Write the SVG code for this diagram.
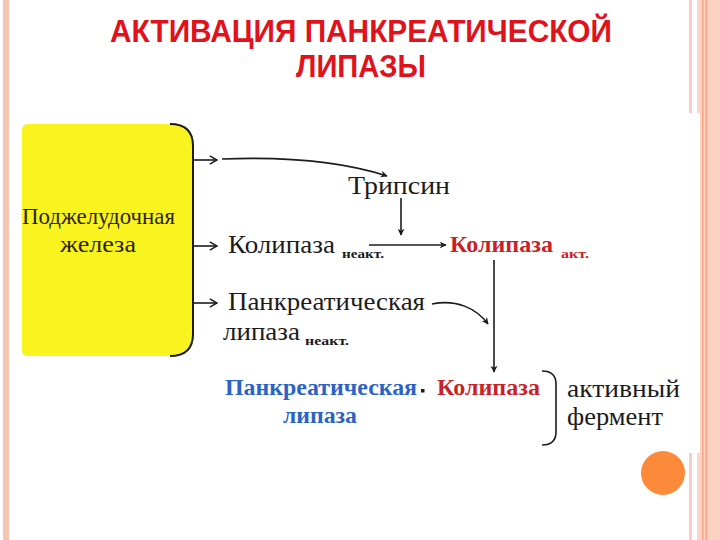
<svg xmlns="http://www.w3.org/2000/svg" width="720" height="540" viewBox="0 0 720 540">
<defs>
<style>
.title{font-family:"Liberation Sans",Arial,sans-serif;font-weight:bold;font-size:31px;fill:#e0121c;text-anchor:middle}
.ser{font-family:"Liberation Serif","Times New Roman",serif;font-size:26px;fill:#1c1c1c}
.sub{font-family:"Liberation Serif","Times New Roman",serif;font-size:13px;font-weight:bold;fill:#1c1c1c}
.red{fill:#c91f29;font-weight:bold}
.blue{fill:#2b62c6;font-weight:bold}
.box{fill:#2b2600;font-size:24px}
.ln{fill:none;stroke:#1c1c1c;stroke-width:1.6}
</style>
<marker id="ah" viewBox="0 0 10 10" refX="9" refY="5" markerWidth="7" markerHeight="7" orient="auto" markerUnits="userSpaceOnUse">
<path d="M0,0 L10,5 L0,10 L3,5 Z" fill="#1c1c1c"/>
</marker>
<marker id="ch" viewBox="0 0 10 10" refX="9" refY="5" markerWidth="9" markerHeight="11" orient="auto" markerUnits="userSpaceOnUse">
<path d="M1,0.5 L9,5 L1,9.5" fill="none" stroke="#1c1c1c" stroke-width="1.6"/>
</marker>
</defs>
<rect width="720" height="540" fill="#ffffff"/>
<g id="border">
<rect x="3" y="0" width="6" height="540" fill="#f6c4b2"/>
<rect x="700" y="0" width="20" height="540" fill="#fcd1c1"/>
<rect x="702" y="0" width="1.5" height="540" fill="#f3a586"/>
<rect x="705.5" y="0" width="1.5" height="540" fill="#f3a586"/>
<rect x="689" y="0" width="3" height="113" fill="#f7cdbf"/>
<rect x="697" y="0" width="3" height="113" fill="#f9d6ca"/>
<rect x="689" y="453" width="3" height="87" fill="#f7cdbf"/>
<rect x="697" y="453" width="3" height="87" fill="#f9d6ca"/>
<circle cx="663" cy="473" r="22" fill="#fb8a3a"/>
</g>
<g id="title">
<text class="title" x="361" y="42" textLength="502" lengthAdjust="spacingAndGlyphs">АКТИВАЦИЯ ПАНКРЕАТИЧЕСКОЙ</text>
<text class="title" x="361" y="77" textLength="130" lengthAdjust="spacingAndGlyphs">ЛИПАЗЫ</text>
</g>
<g id="pancreas">
<path d="M28,124 L173,124 Q193,124 193,146 L193,334 Q193,356 173,356 L28,356 Q22,356 22,350 L22,130 Q22,124 28,124 Z" fill="#f9f41f"/>
<path d="M170,124 Q193,124 193,146 L193,334 Q193,356 170,356" fill="none" stroke="#1c1c1c" stroke-width="2"/>
<text class="ser box" x="22" y="224" textLength="153" lengthAdjust="spacingAndGlyphs">Поджелудочная</text>
<text class="ser box" x="60" y="252" textLength="76" lengthAdjust="spacingAndGlyphs">железа</text>
</g>
<g id="trypsin">
<text class="ser" x="348" y="194" textLength="102" lengthAdjust="spacingAndGlyphs">Трипсин</text>
</g>
<g id="colipase-inactive">
<text class="ser" x="228" y="253" textLength="107" lengthAdjust="spacingAndGlyphs">Колипаза</text>
<text class="sub" x="342" y="258" textLength="42" lengthAdjust="spacingAndGlyphs">неакт.</text>
</g>
<g id="colipase-active">
<text class="ser red" x="450" y="252" textLength="103" lengthAdjust="spacingAndGlyphs" style="font-size:24px">Колипаза</text>
<text class="sub red" x="561" y="258" textLength="28" lengthAdjust="spacingAndGlyphs">акт.</text>
</g>
<g id="lipase-inactive">
<text class="ser" x="228" y="310" textLength="197" lengthAdjust="spacingAndGlyphs">Панкреатическая</text>
<text class="ser" x="223" y="340" textLength="77" lengthAdjust="spacingAndGlyphs">липаза</text>
<text class="sub" x="305" y="345" textLength="44" lengthAdjust="spacingAndGlyphs">неакт.</text>
</g>
<g id="complex">
<text class="ser blue" x="225" y="395" textLength="192" lengthAdjust="spacingAndGlyphs" style="font-size:24px">Панкреатическая</text>
<text class="ser blue" x="283" y="423" textLength="74" lengthAdjust="spacingAndGlyphs" style="font-size:24px">липаза</text>
<rect x="421" y="389" width="3.5" height="3.5" fill="#1c1c1c"/>
<text class="ser red" x="437" y="395" textLength="103" lengthAdjust="spacingAndGlyphs" style="font-size:24px">Колипаза</text>
</g>
<g id="active-enzyme">
<text class="ser" x="567" y="397" textLength="113" lengthAdjust="spacingAndGlyphs">активный</text>
<text class="ser" x="567" y="425" textLength="96" lengthAdjust="spacingAndGlyphs">фермент</text>
</g>
<g id="connectors">
<line class="ln" x1="194" y1="160" x2="217" y2="160" marker-end="url(#ch)"/>
<line class="ln" x1="194" y1="246" x2="217" y2="246" marker-end="url(#ch)"/>
<line class="ln" x1="194" y1="303" x2="217" y2="303" marker-end="url(#ch)"/>
<path class="ln" d="M222,159 C300,156 350,164 387,176" marker-end="url(#ah)"/>
<path class="ln" d="M401,198 L401,235" marker-end="url(#ah)"/>
<path class="ln" d="M369,245 L446,245" marker-end="url(#ah)"/>
<path class="ln" d="M494,260 L494,372" marker-end="url(#ah)"/>
<path class="ln" d="M432,304 C456,299 476,308 488,324" marker-end="url(#ah)"/>
<path class="ln" d="M542,371 Q556,371 556,384 L556,432 Q556,445 542,445"/>
</g>
</svg>
